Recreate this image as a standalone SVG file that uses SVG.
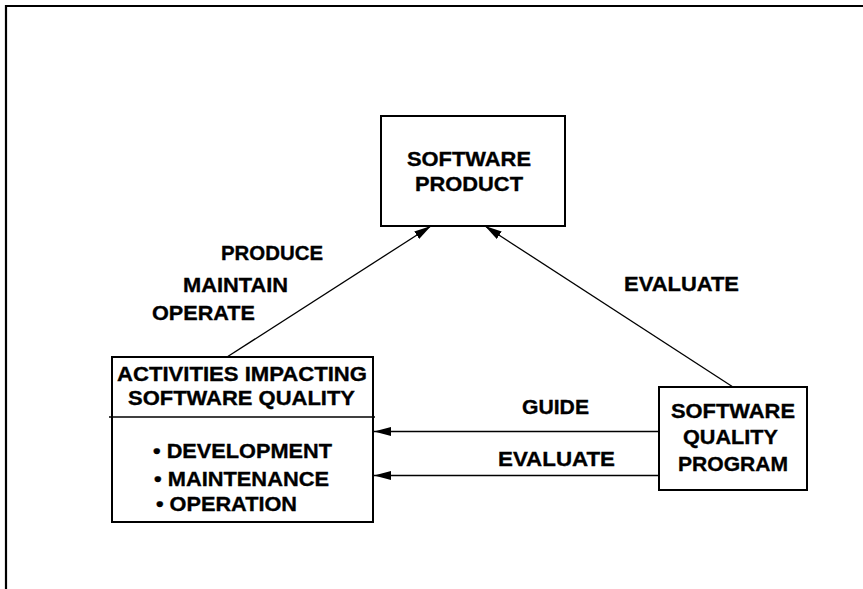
<svg xmlns="http://www.w3.org/2000/svg" width="863" height="589" viewBox="0 0 863 589">
<defs>
<style>
text{font-family:"Liberation Sans",Arial,sans-serif;font-weight:bold;font-size:21px;fill:#000;stroke:#000;stroke-width:0.35}
.box{fill:#fff;stroke:#000;stroke-width:2}
.conn{stroke:#000;stroke-width:1.3;fill:none}
</style>
<marker id="ah" markerUnits="userSpaceOnUse" markerWidth="18" markerHeight="10" refX="17" refY="4.5" orient="auto">
<path d="M0,0 L17,4.5 L0,9 z" fill="#000"/>
</marker>
</defs>
<rect width="863" height="589" fill="#fff"/>
<path d="M6,589 V6 H863" fill="none" stroke="#000" stroke-width="2.2"/>
<g id="connectors">
<line class="conn" x1="227" y1="357" x2="431" y2="226" marker-end="url(#ah)"/>
<line class="conn" x1="733" y1="387" x2="485" y2="226" marker-end="url(#ah)"/>
<line class="conn" x1="659" y1="431.5" x2="374" y2="431.5" marker-end="url(#ah)"/>
<line class="conn" x1="659" y1="475.5" x2="374" y2="475.5" marker-end="url(#ah)"/>
<text x="221" y="260" textLength="102" lengthAdjust="spacingAndGlyphs">PRODUCE</text>
<text x="183" y="292" textLength="105" lengthAdjust="spacingAndGlyphs">MAINTAIN</text>
<text x="152" y="320" textLength="103" lengthAdjust="spacingAndGlyphs">OPERATE</text>
<text x="624" y="291" textLength="115" lengthAdjust="spacingAndGlyphs">EVALUATE</text>
<text x="522" y="414" textLength="67" lengthAdjust="spacingAndGlyphs">GUIDE</text>
<text x="498" y="466" textLength="117" lengthAdjust="spacingAndGlyphs">EVALUATE</text>
</g>
<g id="software-product">
<rect class="box" x="381" y="116" width="184" height="110"/>
<text x="407" y="166" textLength="124" lengthAdjust="spacingAndGlyphs">SOFTWARE</text>
<text x="415" y="191" textLength="108" lengthAdjust="spacingAndGlyphs">PRODUCT</text>
</g>
<g id="activities">
<rect class="box" x="112" y="357" width="261" height="165"/>
<line x1="109" y1="417" x2="375" y2="417" stroke="#000" stroke-width="1.5"/>
<text x="117" y="381" textLength="250" lengthAdjust="spacingAndGlyphs">ACTIVITIES IMPACTING</text>
<text x="128" y="405" textLength="227" lengthAdjust="spacingAndGlyphs">SOFTWARE QUALITY</text>
<text x="153" y="458" textLength="179" lengthAdjust="spacingAndGlyphs">• DEVELOPMENT</text>
<text x="154" y="486" textLength="175" lengthAdjust="spacingAndGlyphs">• MAINTENANCE</text>
<text x="156" y="511" textLength="141" lengthAdjust="spacingAndGlyphs">• OPERATION</text>
</g>
<g id="quality-program">
<rect class="box" x="659" y="387" width="148" height="103"/>
<text x="671" y="418" textLength="124" lengthAdjust="spacingAndGlyphs">SOFTWARE</text>
<text x="683" y="444" textLength="95" lengthAdjust="spacingAndGlyphs">QUALITY</text>
<text x="678" y="471" textLength="110" lengthAdjust="spacingAndGlyphs">PROGRAM</text>
</g>
</svg>
